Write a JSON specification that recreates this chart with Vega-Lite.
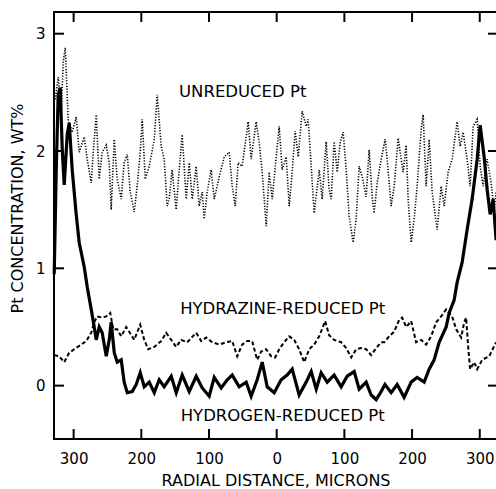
{
  "$schema": "https://vega.github.io/schema/vega-lite/v6.json",
  "width": 443,
  "height": 427,
  "autosize": "none",
  "padding": {"left": 54, "top": 12, "right": 0, "bottom": 50},
  "background": "white",
  "config": {
    "view": {"stroke": "black", "strokeWidth": 2},
    "font": "DejaVu Sans",
    "axis": {"domain": false, "labelColor": "black", "titleColor": "black", "labelFont": "DejaVu Sans", "titleFont": "DejaVu Sans", "grid": false}
  },
  "datasets": {
    "xticks": [{"tick": -300}, {"tick": -200}, {"tick": -100}, {"tick": 0}, {"tick": 100}, {"tick": 200}, {"tick": 300}],
    "yticks": [{"tick": 0}, {"tick": 1}, {"tick": 2}, {"tick": 3}],
    "unreduced": [
      {"distance": -327.2, "conc": 2.44}, {"distance": -322.7, "conc": 2.63}, {"distance": -318.3, "conc": 2.31}, {"distance": -315.4, "conc": 2.76}, {"distance": -312.4, "conc": 2.88},
      {"distance": -308.0, "conc": 2.27}, {"distance": -302.1, "conc": 2.16}, {"distance": -296.2, "conc": 2.29}, {"distance": -291.7, "conc": 1.99}, {"distance": -284.3, "conc": 2.12},
      {"distance": -279.9, "conc": 1.93}, {"distance": -274.0, "conc": 1.73}, {"distance": -271.0, "conc": 1.99}, {"distance": -266.6, "conc": 2.31}, {"distance": -262.2, "conc": 1.76},
      {"distance": -257.8, "conc": 1.99}, {"distance": -251.8, "conc": 2.05}, {"distance": -247.4, "conc": 1.90}, {"distance": -244.5, "conc": 1.50}, {"distance": -240.0, "conc": 2.10},
      {"distance": -235.6, "conc": 1.76}, {"distance": -229.7, "conc": 1.59}, {"distance": -225.3, "conc": 1.90}, {"distance": -220.8, "conc": 1.97}, {"distance": -216.4, "conc": 1.65},
      {"distance": -210.5, "conc": 1.48}, {"distance": -206.1, "conc": 1.70}, {"distance": -201.6, "conc": 1.99}, {"distance": -198.7, "conc": 2.27}, {"distance": -194.2, "conc": 1.76},
      {"distance": -188.3, "conc": 1.87}, {"distance": -180.9, "conc": 2.10}, {"distance": -176.5, "conc": 2.48}, {"distance": -170.6, "conc": 2.04}, {"distance": -166.2, "conc": 1.93},
      {"distance": -161.7, "conc": 1.53}, {"distance": -158.8, "conc": 1.59}, {"distance": -154.4, "conc": 1.84}, {"distance": -148.5, "conc": 1.50}, {"distance": -144.0, "conc": 1.84},
      {"distance": -139.6, "conc": 2.14}, {"distance": -133.7, "conc": 1.59}, {"distance": -129.2, "conc": 1.90}, {"distance": -124.8, "conc": 1.59}, {"distance": -118.9, "conc": 1.87},
      {"distance": -114.5, "conc": 1.53}, {"distance": -110.0, "conc": 1.65}, {"distance": -107.1, "conc": 1.42}, {"distance": -102.7, "conc": 1.65}, {"distance": -96.8, "conc": 1.84},
      {"distance": -92.3, "conc": 1.59}, {"distance": -84.9, "conc": 1.78}, {"distance": -77.5, "conc": 1.95}, {"distance": -70.2, "conc": 1.99}, {"distance": -65.7, "conc": 1.70},
      {"distance": -61.3, "conc": 1.53}, {"distance": -56.9, "conc": 1.90}, {"distance": -51.0, "conc": 1.87}, {"distance": -45.1, "conc": 2.12}, {"distance": -42.1, "conc": 2.25},
      {"distance": -37.7, "conc": 1.93}, {"distance": -30.3, "conc": 2.25}, {"distance": -25.8, "conc": 2.07}, {"distance": -21.4, "conc": 1.82}, {"distance": -15.5, "conc": 1.36},
      {"distance": -11.1, "conc": 1.82}, {"distance": -6.6, "conc": 1.59}, {"distance": -0.7, "conc": 1.95}, {"distance": 3.7, "conc": 2.21}, {"distance": 8.1, "conc": 1.84},
      {"distance": 14.0, "conc": 1.95}, {"distance": 18.5, "conc": 1.53}, {"distance": 22.9, "conc": 1.82}, {"distance": 27.3, "conc": 2.17}, {"distance": 31.8, "conc": 1.95},
      {"distance": 37.7, "conc": 2.34}, {"distance": 43.6, "conc": 2.21}, {"distance": 46.5, "conc": 2.27}, {"distance": 51.0, "conc": 1.87}, {"distance": 55.4, "conc": 1.47},
      {"distance": 62.8, "conc": 1.84}, {"distance": 67.2, "conc": 1.59}, {"distance": 73.1, "conc": 2.08}, {"distance": 77.5, "conc": 1.67}, {"distance": 80.5, "conc": 1.59},
      {"distance": 84.9, "conc": 2.08}, {"distance": 89.4, "conc": 1.82}, {"distance": 93.8, "conc": 2.07}, {"distance": 98.2, "conc": 2.16}, {"distance": 102.7, "conc": 1.84},
      {"distance": 107.1, "conc": 1.44}, {"distance": 113.0, "conc": 1.22}, {"distance": 117.4, "conc": 1.42}, {"distance": 121.9, "conc": 1.87}, {"distance": 126.3, "conc": 1.78},
      {"distance": 132.2, "conc": 1.61}, {"distance": 136.6, "conc": 2.01}, {"distance": 141.1, "conc": 1.61}, {"distance": 144.0, "conc": 1.47}, {"distance": 148.5, "conc": 1.73},
      {"distance": 154.4, "conc": 1.93}, {"distance": 160.3, "conc": 2.10}, {"distance": 163.2, "conc": 1.93}, {"distance": 169.1, "conc": 1.53}, {"distance": 173.6, "conc": 1.70},
      {"distance": 179.5, "conc": 2.11}, {"distance": 183.9, "conc": 1.93}, {"distance": 186.9, "conc": 1.82}, {"distance": 191.3, "conc": 2.05}, {"distance": 194.2, "conc": 1.59},
      {"distance": 198.7, "conc": 1.22}, {"distance": 203.1, "conc": 1.42}, {"distance": 207.5, "conc": 1.70}, {"distance": 213.4, "conc": 2.18}, {"distance": 216.4, "conc": 2.31},
      {"distance": 220.8, "conc": 1.70}, {"distance": 225.3, "conc": 2.10}, {"distance": 229.7, "conc": 1.65}, {"distance": 237.1, "conc": 1.33}, {"distance": 243.0, "conc": 1.70},
      {"distance": 247.4, "conc": 1.53}, {"distance": 253.3, "conc": 1.82}, {"distance": 259.2, "conc": 1.93}, {"distance": 266.6, "conc": 2.25}, {"distance": 271.0, "conc": 2.04},
      {"distance": 275.5, "conc": 2.16}, {"distance": 281.4, "conc": 1.93}, {"distance": 285.8, "conc": 1.70}, {"distance": 290.3, "conc": 2.21}, {"distance": 296.2, "conc": 2.27},
      {"distance": 300.6, "conc": 1.87}, {"distance": 305.0, "conc": 1.70}, {"distance": 310.9, "conc": 1.93}, {"distance": 316.8, "conc": 1.73}, {"distance": 321.3, "conc": 1.50},
      {"distance": 324.2, "conc": 1.65}
    ],
    "hydrazine": [
      {"distance": -328.7, "conc": 0.26}, {"distance": -321.3, "conc": 0.25}, {"distance": -313.9, "conc": 0.20}, {"distance": -306.5, "conc": 0.28}, {"distance": -299.2, "conc": 0.31},
      {"distance": -288.8, "conc": 0.35}, {"distance": -281.4, "conc": 0.38}, {"distance": -274.0, "conc": 0.45}, {"distance": -269.6, "conc": 0.54}, {"distance": -265.2, "conc": 0.59},
      {"distance": -257.8, "conc": 0.58}, {"distance": -251.8, "conc": 0.59}, {"distance": -245.9, "conc": 0.62}, {"distance": -241.5, "conc": 0.48}, {"distance": -235.6, "conc": 0.48},
      {"distance": -229.7, "conc": 0.42}, {"distance": -222.3, "conc": 0.50}, {"distance": -217.9, "conc": 0.46}, {"distance": -210.5, "conc": 0.39}, {"distance": -201.6, "conc": 0.52},
      {"distance": -195.7, "conc": 0.39}, {"distance": -189.8, "conc": 0.31}, {"distance": -180.9, "conc": 0.33}, {"distance": -170.6, "conc": 0.38}, {"distance": -163.2, "conc": 0.45},
      {"distance": -155.8, "conc": 0.39}, {"distance": -148.5, "conc": 0.33}, {"distance": -141.1, "conc": 0.39}, {"distance": -132.2, "conc": 0.37}, {"distance": -118.9, "conc": 0.45},
      {"distance": -111.5, "conc": 0.38}, {"distance": -104.1, "conc": 0.41}, {"distance": -95.3, "conc": 0.37}, {"distance": -84.9, "conc": 0.35}, {"distance": -74.6, "conc": 0.37},
      {"distance": -65.7, "conc": 0.38}, {"distance": -58.3, "conc": 0.25}, {"distance": -51.0, "conc": 0.35}, {"distance": -43.6, "conc": 0.38}, {"distance": -36.2, "conc": 0.38},
      {"distance": -28.8, "conc": 0.22}, {"distance": -22.9, "conc": 0.29}, {"distance": -15.5, "conc": 0.31}, {"distance": -8.1, "conc": 0.25}, {"distance": -2.2, "conc": 0.24},
      {"distance": 3.7, "conc": 0.31}, {"distance": 11.1, "conc": 0.37}, {"distance": 18.5, "conc": 0.42}, {"distance": 25.8, "conc": 0.39}, {"distance": 33.2, "conc": 0.31},
      {"distance": 40.6, "conc": 0.20}, {"distance": 48.0, "conc": 0.31}, {"distance": 55.4, "conc": 0.35}, {"distance": 62.8, "conc": 0.42}, {"distance": 71.6, "conc": 0.55},
      {"distance": 77.5, "conc": 0.43}, {"distance": 84.9, "conc": 0.39}, {"distance": 95.3, "conc": 0.37}, {"distance": 102.7, "conc": 0.32}, {"distance": 110.1, "conc": 0.24},
      {"distance": 117.4, "conc": 0.31}, {"distance": 124.8, "conc": 0.32}, {"distance": 132.2, "conc": 0.31}, {"distance": 139.6, "conc": 0.26}, {"distance": 147.0, "conc": 0.32},
      {"distance": 154.4, "conc": 0.37}, {"distance": 158.8, "conc": 0.37}, {"distance": 166.2, "conc": 0.42}, {"distance": 173.6, "conc": 0.46}, {"distance": 180.9, "conc": 0.56},
      {"distance": 185.4, "conc": 0.58}, {"distance": 191.3, "conc": 0.50}, {"distance": 198.7, "conc": 0.55}, {"distance": 206.0, "conc": 0.37}, {"distance": 213.4, "conc": 0.39},
      {"distance": 220.8, "conc": 0.35}, {"distance": 228.2, "conc": 0.42}, {"distance": 235.6, "conc": 0.54}, {"distance": 243.0, "conc": 0.59}, {"distance": 250.4, "conc": 0.65},
      {"distance": 254.8, "conc": 0.62}, {"distance": 259.2, "conc": 0.59}, {"distance": 265.2, "conc": 0.48}, {"distance": 272.6, "conc": 0.41}, {"distance": 277.0, "conc": 0.54},
      {"distance": 279.9, "conc": 0.58}, {"distance": 282.9, "conc": 0.33}, {"distance": 285.8, "conc": 0.14}, {"distance": 291.7, "conc": 0.20}, {"distance": 296.2, "conc": 0.14},
      {"distance": 303.6, "conc": 0.22}, {"distance": 314.0, "conc": 0.25}, {"distance": 324.2, "conc": 0.37}
    ],
    "hydrogen": [
      {"distance": -328.7, "conc": 0.95}, {"distance": -325.7, "conc": 1.84}, {"distance": -322.8, "conc": 2.48}, {"distance": -319.8, "conc": 2.54}, {"distance": -316.8, "conc": 2.01},
      {"distance": -313.9, "conc": 1.71}, {"distance": -309.5, "conc": 2.14}, {"distance": -306.5, "conc": 2.24}, {"distance": -302.1, "conc": 1.84}, {"distance": -296.2, "conc": 1.46},
      {"distance": -291.8, "conc": 1.22}, {"distance": -284.3, "conc": 1.01}, {"distance": -279.9, "conc": 0.84}, {"distance": -274.0, "conc": 0.65}, {"distance": -269.6, "conc": 0.50},
      {"distance": -266.6, "conc": 0.39}, {"distance": -262.2, "conc": 0.50}, {"distance": -257.8, "conc": 0.45}, {"distance": -251.8, "conc": 0.25}, {"distance": -247.4, "conc": 0.39},
      {"distance": -244.5, "conc": 0.54}, {"distance": -240.0, "conc": 0.28}, {"distance": -235.6, "conc": 0.20}, {"distance": -229.7, "conc": 0.22}, {"distance": -225.3, "conc": 0.03},
      {"distance": -220.8, "conc": -0.06}, {"distance": -213.4, "conc": -0.05}, {"distance": -207.5, "conc": 0.01}, {"distance": -201.6, "conc": 0.11}, {"distance": -195.7, "conc": -0.01},
      {"distance": -188.3, "conc": 0.03}, {"distance": -180.9, "conc": -0.06}, {"distance": -173.6, "conc": 0.05}, {"distance": -166.2, "conc": -0.01}, {"distance": -155.8, "conc": 0.08},
      {"distance": -148.4, "conc": -0.06}, {"distance": -139.6, "conc": 0.09}, {"distance": -129.2, "conc": -0.05}, {"distance": -118.9, "conc": 0.08}, {"distance": -110.0, "conc": -0.02},
      {"distance": -99.7, "conc": -0.09}, {"distance": -92.3, "conc": 0.07}, {"distance": -82.0, "conc": -0.02}, {"distance": -73.1, "conc": 0.05}, {"distance": -65.7, "conc": 0.09},
      {"distance": -55.4, "conc": -0.01}, {"distance": -45.0, "conc": 0.03}, {"distance": -37.7, "conc": -0.09}, {"distance": -28.8, "conc": 0.05}, {"distance": -21.4, "conc": 0.20},
      {"distance": -14.0, "conc": -0.01}, {"distance": -3.7, "conc": -0.06}, {"distance": 6.6, "conc": 0.05}, {"distance": 15.5, "conc": 0.09}, {"distance": 22.9, "conc": 0.14},
      {"distance": 33.2, "conc": -0.08}, {"distance": 43.6, "conc": 0.03}, {"distance": 51.0, "conc": 0.12}, {"distance": 58.4, "conc": -0.03}, {"distance": 65.7, "conc": 0.11},
      {"distance": 74.6, "conc": 0.03}, {"distance": 84.9, "conc": 0.09}, {"distance": 95.3, "conc": -0.01}, {"distance": 104.1, "conc": 0.08}, {"distance": 114.5, "conc": 0.12},
      {"distance": 121.9, "conc": -0.03}, {"distance": 132.2, "conc": 0.03}, {"distance": 139.6, "conc": -0.08}, {"distance": 147.0, "conc": -0.12}, {"distance": 154.4, "conc": -0.05},
      {"distance": 160.0, "conc": 0.01}, {"distance": 169.1, "conc": -0.06}, {"distance": 178.0, "conc": 0.01}, {"distance": 188.3, "conc": -0.10}, {"distance": 198.7, "conc": 0.03},
      {"distance": 207.5, "conc": 0.07}, {"distance": 217.9, "conc": 0.03}, {"distance": 225.3, "conc": 0.14}, {"distance": 232.6, "conc": 0.22}, {"distance": 240.0, "conc": 0.37},
      {"distance": 250.4, "conc": 0.50}, {"distance": 254.8, "conc": 0.62}, {"distance": 262.2, "conc": 0.73}, {"distance": 266.6, "conc": 0.88}, {"distance": 274.0, "conc": 1.05},
      {"distance": 281.4, "conc": 1.33}, {"distance": 288.8, "conc": 1.59}, {"distance": 296.2, "conc": 1.93}, {"distance": 300.6, "conc": 2.22}, {"distance": 306.5, "conc": 1.95},
      {"distance": 311.0, "conc": 1.67}, {"distance": 315.4, "conc": 1.46}, {"distance": 319.8, "conc": 1.59}, {"distance": 324.2, "conc": 1.24}
    ],
    "notes": [
      {"distance": -50.2, "conc": 2.50, "label": "UNREDUCED Pt"},
      {"distance": 8.9, "conc": 0.65, "label": "HYDRAZINE-REDUCED Pt"},
      {"distance": 8.9, "conc": -0.26, "label": "HYDROGEN-REDUCED Pt"}
    ]
  },
  "resolve": {"scale": {"x": "independent", "y": "independent"}, "axis": {"x": "independent", "y": "independent"}},
  "layer": [
    {
      "data": {"name": "yticks"},
      "mark": {"type": "rule", "color": "black", "strokeWidth": 2},
      "encoding": {
        "y": {"field": "tick", "type": "quantitative", "scale": {"domain": [-0.455, 3.185], "nice": false, "zero": false}, "axis": null},
        "x": {"datum": -329, "type": "quantitative", "scale": {"domain": [-329, 325.5], "nice": false, "zero": false}, "axis": null},
        "x2": {"datum": -314.2}
      }
    },
    {
      "data": {"name": "yticks"},
      "mark": {"type": "rule", "color": "black", "strokeWidth": 2},
      "encoding": {
        "y": {"field": "tick", "type": "quantitative", "scale": {"domain": [-0.455, 3.185], "nice": false, "zero": false}, "axis": null},
        "x": {"datum": 325.5, "type": "quantitative", "scale": {"domain": [-329, 325.5], "nice": false, "zero": false}, "axis": null},
        "x2": {"datum": 312.2}
      }
    },
    {
      "data": {"name": "xticks"},
      "mark": {"type": "rule", "color": "black", "strokeWidth": 2},
      "encoding": {
        "x": {"field": "tick", "type": "quantitative", "scale": {"domain": [-329, 325.5], "nice": false, "zero": false}, "axis": null},
        "y": {"datum": -0.455, "type": "quantitative", "scale": {"domain": [-0.455, 3.185], "nice": false, "zero": false}, "axis": null},
        "y2": {"datum": -0.37}
      }
    },
    {
      "data": {"name": "xticks"},
      "mark": {"type": "rule", "color": "black", "strokeWidth": 2},
      "encoding": {
        "x": {"field": "tick", "type": "quantitative", "scale": {"domain": [-329, 325.5], "nice": false, "zero": false}, "axis": null},
        "y": {"datum": 3.185, "type": "quantitative", "scale": {"domain": [-0.455, 3.185], "nice": false, "zero": false}, "axis": null},
        "y2": {"datum": 3.1}
      }
    },
    {
      "data": {"name": "unreduced"},
      "mark": {"type": "line", "color": "black", "strokeWidth": 1.6, "strokeDash": [1.2, 1.6]},
      "encoding": {
        "x": {"field": "distance", "type": "quantitative", "scale": {"domain": [-329, 325.5], "nice": false, "zero": false},
          "axis": {"orient": "bottom", "values": [-300, -200, -100, 0, 100, 200, 300], "labelExpr": "'' + abs(datum.value)", "ticks": false, "tickSize": 0, "labelPadding": 12, "labelFontSize": 15, "title": "RADIAL DISTANCE, MICRONS", "titleFontSize": 16, "titleFontWeight": "normal", "titlePadding": 6}},
        "y": {"field": "conc", "type": "quantitative", "scale": {"domain": [-0.455, 3.185], "nice": false, "zero": false},
          "axis": {"orient": "left", "values": [0, 1, 2, 3], "ticks": false, "tickSize": 0, "labelPadding": 9, "labelFontSize": 15, "title": "Pt CONCENTRATION, WT%", "titleFontSize": 16, "titleFontWeight": "normal", "titlePadding": 10, "titleY": 196}}
      }
    },
    {
      "data": {"name": "hydrazine"},
      "mark": {"type": "line", "color": "black", "strokeWidth": 2, "strokeDash": [4, 2.5]},
      "encoding": {
        "x": {"field": "distance", "type": "quantitative", "scale": {"domain": [-329, 325.5], "nice": false, "zero": false}, "axis": null},
        "y": {"field": "conc", "type": "quantitative", "scale": {"domain": [-0.455, 3.185], "nice": false, "zero": false}, "axis": null}
      }
    },
    {
      "data": {"name": "hydrogen"},
      "mark": {"type": "line", "color": "black", "strokeWidth": 3.2},
      "encoding": {
        "x": {"field": "distance", "type": "quantitative", "scale": {"domain": [-329, 325.5], "nice": false, "zero": false}, "axis": null},
        "y": {"field": "conc", "type": "quantitative", "scale": {"domain": [-0.455, 3.185], "nice": false, "zero": false}, "axis": null}
      }
    },
    {
      "data": {"name": "notes"},
      "mark": {"type": "text", "color": "black", "fontSize": 16.5, "font": "DejaVu Sans", "align": "center", "baseline": "middle"},
      "encoding": {
        "x": {"field": "distance", "type": "quantitative", "scale": {"domain": [-329, 325.5], "nice": false, "zero": false}, "axis": null},
        "y": {"field": "conc", "type": "quantitative", "scale": {"domain": [-0.455, 3.185], "nice": false, "zero": false}, "axis": null},
        "text": {"field": "label"}
      }
    }
  ]
}
